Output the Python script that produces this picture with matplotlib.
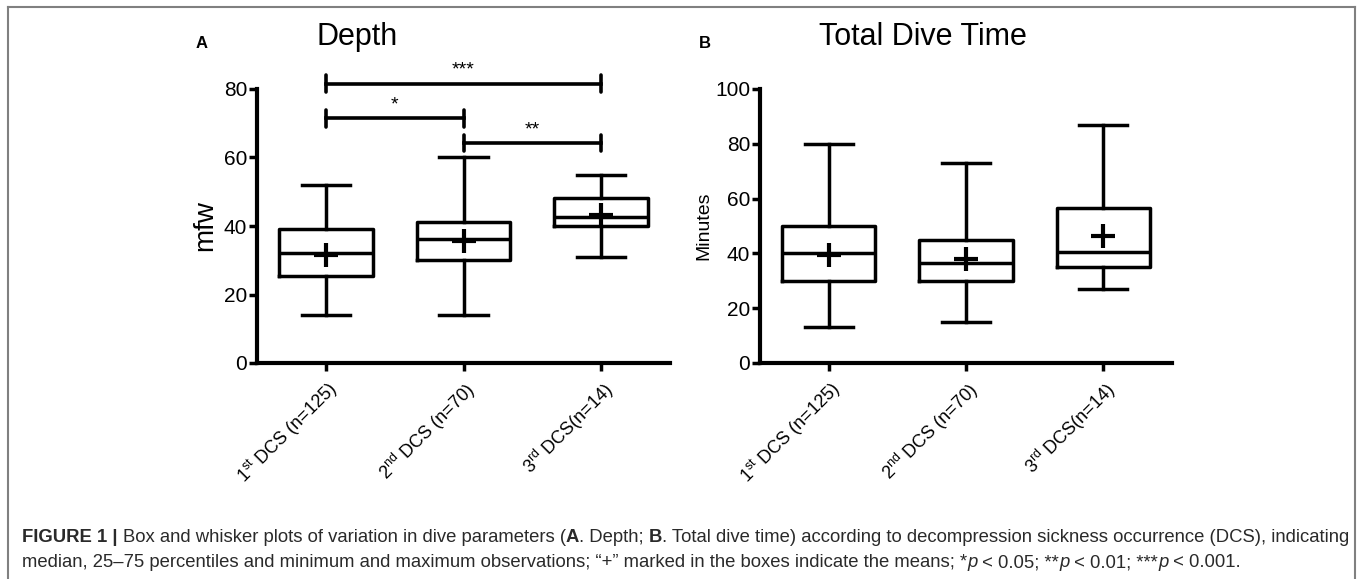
import matplotlib
matplotlib.use("Agg")
import matplotlib.pyplot as plt
from matplotlib.lines import Line2D

plt.rcParams['font.family'] = ['Liberation Sans', 'DejaVu Sans']
plt.rcParams['mathtext.fontset'] = 'custom'
plt.rcParams['mathtext.rm'] = 'Liberation Sans'
plt.rcParams['mathtext.it'] = 'Liberation Sans:italic'
plt.rcParams['mathtext.bf'] = 'Liberation Sans:bold'

# categories
groups = [r"1$^{\mathrm{st}}$ DCS (n=125)",
          r"2$^{\mathrm{nd}}$ DCS (n=70)",
          r"3$^{\mathrm{rd}}$ DCS(n=14)"]

# depth (mfw): min, q1, median, q3, max, mean
depth_min = [14, 14, 31]
depth_q1 = [25.5, 30.2, 40]
depth_med = [32, 36.2, 42.5]
depth_q3 = [39, 41.2, 48.2]
depth_max = [52, 60, 55]
depth_mean = [31.5, 35.6, 43.2]

# total dive time (minutes)
time_min = [13, 15, 27]
time_q1 = [30, 30, 35]
time_med = [40, 36.5, 40.5]
time_q3 = [50, 45, 56.6]
time_max = [80, 73, 87]
time_mean = [39.5, 38, 46.5]

# significance brackets for depth: (from, to, bar height, label)
sig_from = [1, 1, 2]
sig_to = [3, 2, 3]
sig_y = [81.6, 71.4, 64.2]
sig_lab = ["***", "*", "**"]

W, H = 1358, 579
fig = plt.figure(figsize=(W / 100, H / 100), dpi=100)

def px_axes(x0, x1, y0, y1):
    return fig.add_axes([x0 / W, 1 - y0 / H, (x1 - x0) / W, (y0 - y1) / H])

def draw_panel(ax, mins, q1, med, q3, maxs, means, ymax, step):
    stats = []
    for i in range(len(groups)):
        stats.append(dict(whislo=mins[i], q1=q1[i], med=med[i], q3=q3[i],
                          whishi=maxs[i], mean=means[i], fliers=[]))
    lw = 2.5
    ax.bxp(stats, positions=[1, 2, 3], widths=0.68, showmeans=True,
           capwidths=0.35,
           boxprops=dict(color='black', linewidth=lw),
           whiskerprops=dict(color='black', linewidth=lw),
           capprops=dict(color='black', linewidth=lw),
           medianprops=dict(color='black', linewidth=lw),
           meanprops=dict(marker='+', markersize=17, markeredgewidth=3,
                          markeredgecolor='black'))
    ax.set_xlim(0.5, 3.5)
    ax.set_ylim(0, ymax)
    ax.set_yticks(range(0, ymax + 1, step))
    ax.set_xticks([1, 2, 3])
    ax.set_xticklabels(groups, rotation=45, ha='right', rotation_mode='anchor',
                       fontsize=13)
    ax.tick_params(axis='y', labelsize=15, width=2.5, length=6, pad=1)
    ax.tick_params(axis='x', width=2.5, length=6, pad=5)
    for s in ['top', 'right']:
        ax.spines[s].set_visible(False)
    for s in ['left', 'bottom']:
        ax.spines[s].set_linewidth(3)

axA = px_axes(257, 670, 363, 89)
draw_panel(axA, depth_min, depth_q1, depth_med, depth_q3, depth_max,
           depth_mean, 80, 20)
axA.set_ylabel("mfw", fontsize=20, labelpad=4)

for a, b, y, lab in zip(sig_from, sig_to, sig_y, sig_lab):
    axA.plot([a, b], [y, y], color='black', lw=2.6, clip_on=False)
    for xx in (a, b):
        axA.plot([xx, xx], [y - 2.4, y + 2.4], color='black', lw=2.6,
                 clip_on=False, solid_capstyle='round')
    axA.text((a + b) / 2, y + 1.5, lab, ha='center', va='bottom',
             fontsize=14, clip_on=False)

axB = px_axes(760, 1172, 363, 89)
draw_panel(axB, time_min, time_q1, time_med, time_q3, time_max,
           time_mean, 100, 20)
axB.set_ylabel("Minutes", fontsize=14, labelpad=2)

fig.text(357 / W, 1 - 37 / H, "Depth", fontsize=22, ha='center', va='center')
fig.text(923 / W, 1 - 37 / H, "Total Dive Time", fontsize=22, ha='center',
         va='center')
fig.text(202 / W, 1 - 43 / H, "A", fontsize=12, fontweight='bold',
         ha='center', va='center')
fig.text(705 / W, 1 - 43 / H, "B", fontsize=12, fontweight='bold',
         ha='center', va='center')

# outer frame
gray = '#808080'
fig.add_artist(Line2D([8 / W, 8 / W], [0, 1 - 7 / H], color=gray, lw=1.5))
fig.add_artist(Line2D([8 / W, 1355 / W], [1 - 7 / H, 1 - 7 / H], color=gray, lw=1.5))
fig.add_artist(Line2D([1355 / W, 1355 / W], [0, 1 - 7 / H], color=gray, lw=1.5))

# caption, drawn piece by piece
renderer = fig.canvas.get_renderer()
cap_color = '#2a2a2a'
cap_size = 13.3

def caption_line(pieces, x0, y):
    x = x0
    for txt, weight, style in pieces:
        t = fig.text(x / W, 1 - y / H, txt, fontsize=cap_size, color=cap_color,
                     fontweight=weight, fontstyle=style, va='baseline')
        bb = t.get_window_extent(renderer)
        x += bb.width

line1 = [("FIGURE 1 | ", 'bold', 'normal'),
         ("Box and whisker plots of variation in dive parameters (", 'normal', 'normal'),
         ("A", 'bold', 'normal'),
         (". Depth; ", 'normal', 'normal'),
         ("B", 'bold', 'normal'),
         (". Total dive time) according to decompression sickness occurrence (DCS), indicating",
          'normal', 'normal')]
line2 = [("median, 25\u201375 percentiles and minimum and maximum observations; \u201c+\u201d marked in the boxes indicate the means; *",
          'normal', 'normal'),
         ("p", 'normal', 'italic'),
         (" < 0.05; **", 'normal', 'normal'),
         ("p", 'normal', 'italic'),
         (" < 0.01; ***", 'normal', 'normal'),
         ("p", 'normal', 'italic'),
         (" < 0.001.", 'normal', 'normal')]
caption_line(line1, 22, 542)
caption_line(line2, 22, 567)

fig.savefig("out.png", dpi=100)
